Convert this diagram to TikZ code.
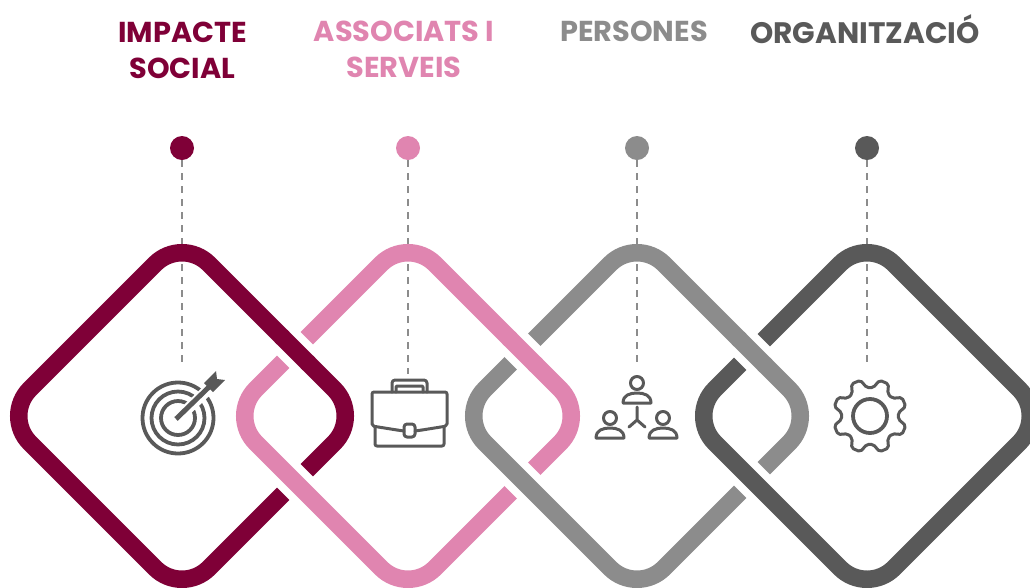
\documentclass[tikz,border=0pt]{standalone}
\usepackage{fontspec}
\setmainfont{Poppins}
\definecolor{wine}{HTML}{7F0037}
\definecolor{rose}{HTML}{E085B0}
\definecolor{midgrey}{HTML}{8C8C8C}
\definecolor{darkgrey}{HTML}{595959}
\tikzset{
  title/.style={font=\fontsize{28.8}{36.5}\selectfont\bfseries, align=center, inner sep=0pt},
  dot/.style={circle, minimum size=24pt, inner sep=0pt},
  band/.style={line width=17.5pt, rounded corners=38pt},
  casing/.style={white, line width=33pt, rounded corners=38pt},
  leader/.style={draw=midgrey, line width=2.6pt, dash pattern=on 7pt off 6pt},
  icon/.style={draw=darkgrey, line width=3pt, line join=round, line cap=round}
}
\newcommand{\rhomb}{(89.5,-89.5) -- (179,0) -- (0,179) -- (-179,0) -- (0,-179) -- cycle}
\begin{document}
\begin{tikzpicture}[x=1pt,y=-1pt]
  \useasboundingbox (0,0) rectangle (1030,587);
  % rings, left to right, each with its dot and leader
  \foreach \x/\col/\lab/\yend in {
    182/wine/impact/368,
    408/rose/assoc/374,
    637/midgrey/people/365,
    867/darkgrey/org/365%
  } {
    \node[dot, fill=\col] (dot\lab) at (\x,148) {};
    \coordinate (end\lab) at (\x,\yend);
    \begin{scope}[shift={(\x,416)}]
      \draw[casing] \rhomb;
    \end{scope}
    \draw[leader] (dot\lab) -- (end\lab);
    \begin{scope}[shift={(\x,416)}]
      \draw[band, draw=\col] \rhomb;
    \end{scope}
  }
  % upper crossings go the other way
  \foreach \a/\b/\col in {182/408/wine, 408/637/rose, 637/867/midgrey} {
    \pgfmathsetmacro{\mx}{(\a+\b)/2}
    \pgfmathsetmacro{\my}{416-179+(\b-\a)/2}
    \draw[white, line width=33pt] (\mx-10,\my-10) -- (\mx+10,\my+10);
    \coordinate (up\a) at (\mx-14,\my-14);
    \coordinate (dn\a) at (\mx+14,\my+14);
    \draw[draw=\col, line width=17.5pt] (up\a) -- (dn\a);
  }
  % titles
  \node[title, text=wine] (impact) at (182.5,50.5) {IMPACTE\\SOCIAL};
  \node[title, text=rose] (assoc) at (404,49.5) {ASSOCIATS I\\SERVEIS};
  \node[title, text=midgrey] (people) at (634,31) {PERSONES};
  \node[title, text=darkgrey, font=\fontsize{29.6}{36}\selectfont\bfseries] (org) at (865,29) {ORGANITZACIÓ};
  % target
  \begin{scope}[shift={(178,418)}]
    \foreach \r in {35.5,26.5,17} {
      \draw[icon, line width=3.8pt] (0,0) circle (\r);
    }
    \draw[white, line width=11pt] (0,0) -- (36,-34);
    \draw[draw=darkgrey, line width=5pt] (-2,1) -- (31,-31);
    \fill[darkgrey] (26,-35) -- (38,-47) -- (39,-39) -- (47,-38) -- (35,-26) -- cycle;
  \end{scope}
  % briefcase
  \begin{scope}[shift={(372,380)}]
    \draw[icon, rounded corners=3pt] (20,12) -- (20,0) -- (55,0) -- (55,12);
    \draw[icon, rounded corners=1pt] (24,12) -- (24,6) -- (51,6) -- (51,12);
    \draw[icon, rounded corners=2pt] (25,50) -- (0,46) -- (0,12) -- (75,12) -- (75,46) -- (50,50);
    \draw[icon, rounded corners=2pt] (3,48) -- (3,66) -- (72,66) -- (72,48);
    \draw[icon, rounded corners=3pt] (32,44) rectangle (43,57);
    \draw[icon] (25,50) -- (32,51) (43,51) -- (50,50);
  \end{scope}
  % people
  \foreach \px/\py in {637/383, 610/418, 663/418} {
    \begin{scope}[shift={(\px,\py)}]
      \draw[icon] (0,0) circle (6.5);
      \draw[icon] (-14,20) -- (14,20) (-14,20) .. controls (-14,12) and (-7,10) .. (0,10) .. controls (7,10) and (14,12) .. (14,20);
    \end{scope}
  }
  \draw[icon] (637,407) -- (637,420) -- (629,427) (637,420) -- (645,427);
  % gear
  \begin{scope}[shift={(870,416)}]
    \draw[icon, rounded corners=2pt] (6.5:28.5) \foreach \k in {0,45,...,315} {
      -- ({\k+15}:37) -- ({\k+30}:37) -- ({\k+38.5}:28.5) -- ({\k+51.5}:28.5)
    } -- cycle;
    \draw[icon, line width=3.8pt] (0,0) circle (17);
  \end{scope}
\end{tikzpicture}
\end{document}
